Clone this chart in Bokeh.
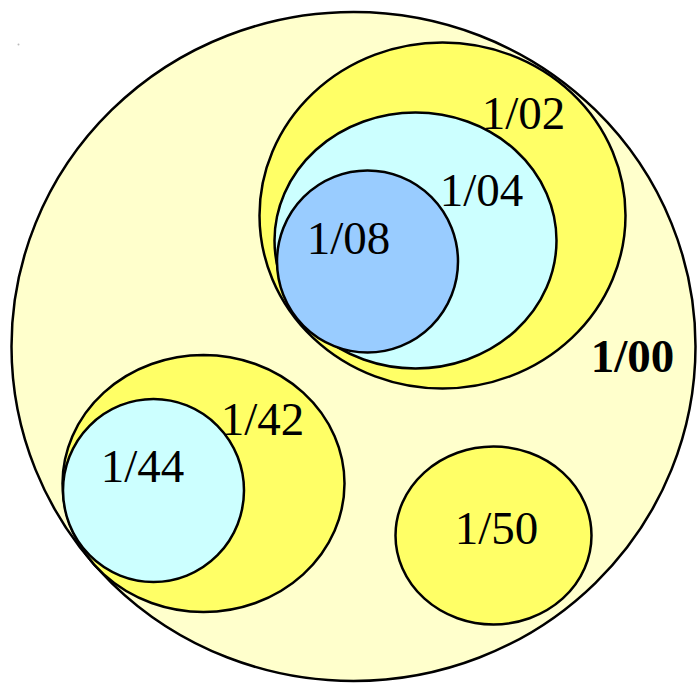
from bokeh.plotting import figure
from bokeh.models import Range1d, ColumnDataSource
from bokeh.core.properties import value
from bokeh.embed import file_html
from bokeh.resources import INLINE

# Sets (nested ellipses), drawn in this order
names = ["1/00", "1/02", "1/04", "1/08", "1/42", "1/44", "1/50"]
cx = [353, 442, 415, 367, 203, 153, 493]
cy = [346, 215, 240, 261, 483, 490, 535]
widths = [684, 366, 282, 181, 282, 181, 196]
heights = [669, 346, 256, 182, 257, 183, 178]
fills = ["#FFFFCC", "#FFFF66", "#CCFFFF", "#99CCFF", "#FFFF66", "#CCFFFF", "#FFFF66"]

# Labels
label_x = [632, 523, 481, 348, 262, 142, 496]
label_y = [355, 112, 189, 237, 418, 465, 527]
label_style = ["bold", "normal", "normal", "normal", "normal", "normal", "normal"]

p = figure(width=698, height=683, output_backend="svg", toolbar_location=None,
           x_range=Range1d(0, 698), y_range=Range1d(683, 0),
           min_border=0, min_border_left=0, min_border_right=0,
           min_border_top=0, min_border_bottom=0)
p.axis.visible = False
p.grid.visible = False
p.outline_line_color = None
p.background_fill_color = "white"
p.border_fill_color = "white"

src = ColumnDataSource(dict(x=cx, y=cy, w=widths, h=heights, c=fills))
p.ellipse(x="x", y="y", width="w", height="h", fill_color="c",
          line_color="black", line_width=2.5, source=src)

lsrc = ColumnDataSource(dict(x=label_x, y=label_y, t=names, s=label_style))
p.text(x="x", y="y", text="t", text_font_style="s", source=lsrc,
       text_font=value("Liberation Serif"), text_font_size="47px",
       text_align="center", text_baseline="alphabetic", text_color="black")

# small speck at top-left
p.scatter(x=[18], y=[44], size=2, color="#BBBBBB", line_color=None)

open("out.html", "w").write(file_html(p, INLINE))
